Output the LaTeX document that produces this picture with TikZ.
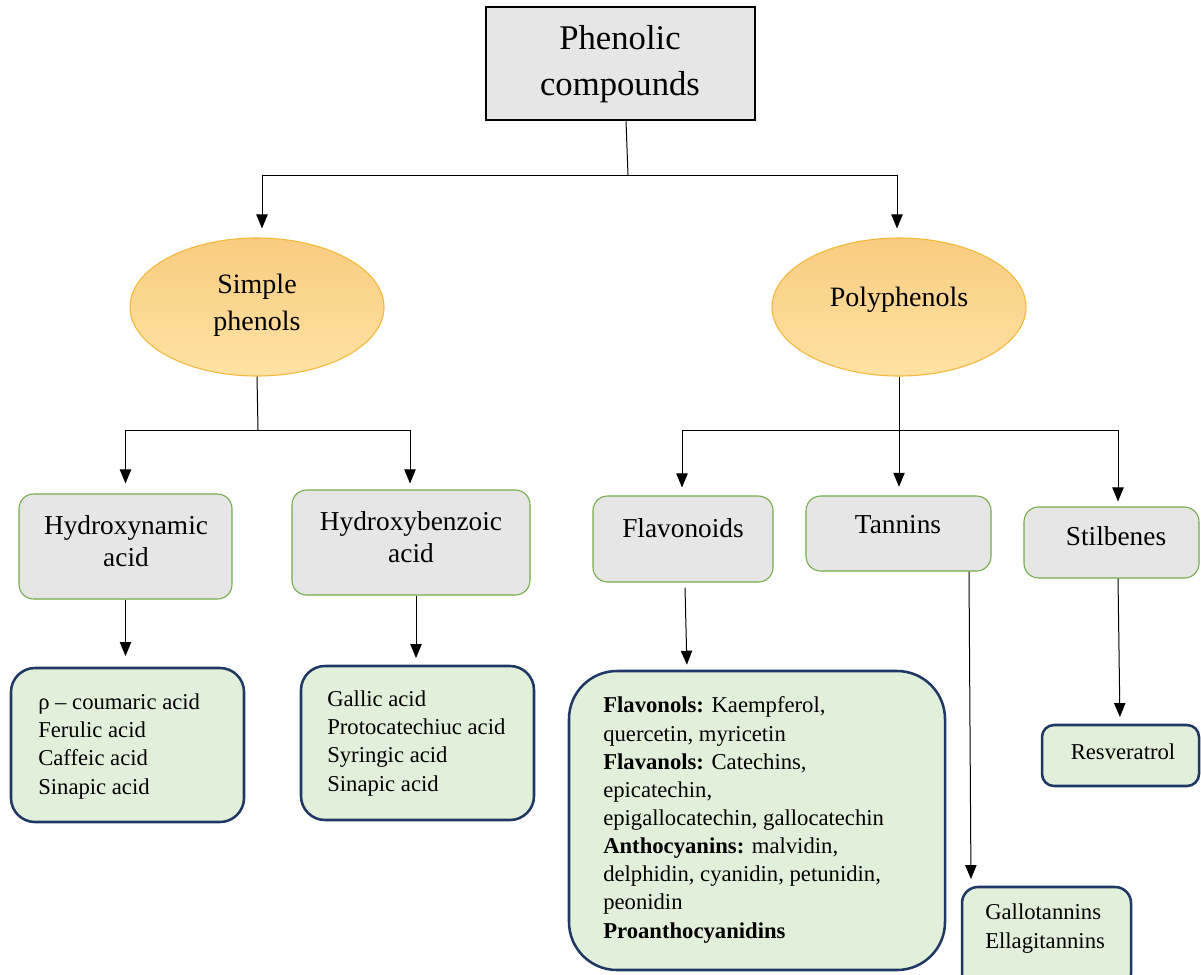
\documentclass[tikz,border=0pt]{standalone}
\usepackage{fontspec}
\setmainfont{Liberation Serif}
\usetikzlibrary{arrows.meta,shapes.geometric,fit,calc}
\definecolor{boxgray}{HTML}{E7E6E6}
\definecolor{leafgreen}{HTML}{70AD47}
\definecolor{paleleaf}{HTML}{E2EFDA}
\definecolor{navy}{HTML}{1F3864}
\definecolor{ambertop}{HTML}{F9CC80}
\definecolor{amberbot}{HTML}{FFE2A3}
\definecolor{amberline}{HTML}{F5B83A}
\begin{document}
\begin{tikzpicture}[x=0.75pt,y=-0.75pt,
  rootbox/.style={draw=black, line width=1.9pt, fill=boxgray, inner sep=0pt},
  groupell/.style={ellipse, draw=amberline, line width=0.8pt, top color=ambertop,
    bottom color=amberbot, inner sep=0pt, minimum width=190.5pt, minimum height=103.5pt},
  classbox/.style={draw=leafgreen, line width=0.8pt, fill=boxgray, rounded corners=11pt, inner sep=0pt},
  itembox/.style={draw=navy, line width=1.9pt, fill=paleleaf, rounded corners=#1, inner sep=0pt},
  itembox/.default=18pt,
  roottext/.style={font=\fontsize{26pt}{34pt}\selectfont, align=center, inner sep=0pt},
  grouptext/.style={font=\fontsize{21pt}{28pt}\selectfont, align=center, inner sep=0pt},
  classtext/.style={font=\fontsize{20.5pt}{24pt}\selectfont, align=center, inner sep=0pt},
  % lists are placed by the baseline of their last line
  itemtext/.style={font=\fontsize{17pt}{21.1pt}\selectfont, align=left, inner sep=0pt, anchor=base west},
  conn/.style={draw=black, line width=0.75pt},
  arr/.style={conn, -{Triangle[length=10.5pt,width=8.5pt]}},
]
\useasboundingbox (0,0) rectangle (1201,974);
\fill[white] (0,0) rectangle (1201,974);
\clip (0,0) rectangle (1201,974);

% root
\node[rootbox, fit={(486,7) (755,120)}] (root) {};
\node[roottext] (rootlbl) at (620,64) {Phenolic\\compounds};

% main groups
\node[groupell] (simple) at (257,307) {};
\node[grouptext] (simplelbl) at (257,305) {Simple\\phenols};
\node[groupell] (poly) at (899,307) {};
\node[grouptext] (polylbl) at (899,300) {Polyphenols};

% classes
\node[classbox, fit={(19,494) (232,599)}] (hyd) {};
\node[classtext] (hydlbl) at (126,541) {Hydroxynamic\\acid};
\node[classbox, fit={(292,490) (530,595)}] (hbz) {};
\node[classtext] (hbzlbl) at (411,537) {Hydroxybenzoic\\acid};
\node[classbox, fit={(593,496) (773,582)}] (flav) {};
\node[classtext] (flavlbl) at (683,528) {Flavonoids};
\node[classbox, fit={(806,496) (991,571)}] (tan) {};
\node[classtext] (tanlbl) at (898,525) {Tannins};
\node[classbox, fit={(1024,507) (1199,578)}] (stil) {};
\node[classtext] (stillbl) at (1116,536) {Stilbenes};

% member lists
\node[itembox=18pt, fit={(11,668) (244,822)}] (hydlist) {};
\node[itemtext] (hydtxt) at (38,794) {ρ – coumaric acid\\Ferulic acid\\Caffeic acid\\Sinapic acid};
\node[itembox=18pt, fit={(301,666) (534,820)}] (hbzlist) {};
\node[itemtext] (hbztxt) at (327,791) {Gallic acid\\Protocatechiuc acid\\Syringic acid\\Sinapic acid};
\node[itembox=36pt, fit={(569,671) (945,970)}] (flavlist) {};
\node[itemtext] (flavtxt) at (603,938) {\textbf{Flavonols:} Kaempferol,\\quercetin, myricetin\\
  \textbf{Flavanols:} Catechins,\\epicatechin,\\epigallocatechin, gallocatechin\\
  \textbf{Anthocyanins:} malvidin,\\delphidin, cyanidin, petunidin,\\peonidin\\\textbf{Proanthocyanidins}};
\node[itembox=12pt, fit={(962,887) (1131,990)}] (tanlist) {};
\node[itemtext] (tantxt) at (985,948) {Gallotannins\\Ellagitannins};
\node[itembox=9pt, fit={(1042,725) (1199,786)}] (resv) {};
\node[classtext, font=\fontsize{17pt}{21.1pt}\selectfont] (resvlbl) at (1123,752) {Resveratrol};

% tree connectors
\coordinate (rootfork) at (628,175);
\coordinate (simplefork) at (258,430);
\coordinate (polyfork) at (899,430);

\draw[conn] ($(root.south)+(5.5,0)$) -- (rootfork);
\draw[arr, shorten >=6.75pt] (rootfork) -| ($(simple.north)+(5,0)$);
\draw[arr, shorten >=6.75pt] (rootfork) -| ($(poly.north)+(-2,0)$);

\draw[conn] (simple.south) -- (simplefork);
\draw[arr, shorten >=7.5pt] (simplefork) -| (hyd.north);
\draw[arr, shorten >=4.5pt] (simplefork) -| ($(hbz.north)+(-1,0)$);

\draw[conn] (poly.south) -- (polyfork);
\draw[arr, shorten >=6pt] (polyfork) -| ($(flav.north)+(-1,0)$);
\draw[arr, shorten >=6.5pt] (polyfork) -- (polyfork |- tan.north);
\draw[arr, shorten >=3.75pt] (polyfork) -| ($(stil.north)+(6.5,0)$);

% leaf connectors
\draw[arr, shorten >=8pt] (hyd.south) -- (hyd.south |- hydlist.north);
\draw[arr, shorten >=5pt] ($(hbz.south)+(5,0)$) -- ($(hbz.south |- hbzlist.north)+(5,0)$);
\draw[arr, shorten >=3.75pt] ($(flav.south)+(2,5)$) -- ($(flav.south |- flavlist.north)+(4,0)$);
\draw[arr, shorten >=5pt] ($(tan.south)+(70.5,0)$) -- ($(tan.south |- tanlist.north)+(72.5,0)$);
\draw[arr, shorten >=5pt] ($(stil.south)+(6.5,0)$) -- ($(stil.south |- resv.north)+(8.5,0)$);
\end{tikzpicture}
\end{document}
